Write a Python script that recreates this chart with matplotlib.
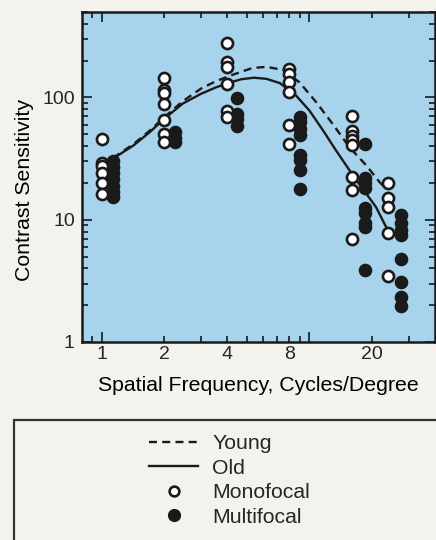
import matplotlib
matplotlib.use('Agg')
import matplotlib.pyplot as plt
from matplotlib.lines import Line2D
from matplotlib.patches import Rectangle
from matplotlib.ticker import FixedLocator, FixedFormatter, FuncFormatter, NullFormatter

plt.rcParams['font.family'] = ['Liberation Sans', 'DejaVu Sans']
plt.rcParams['text.color'] = '#262626'

# fitted curves
young_f = [1.13, 1.42, 1.7, 2.0, 2.45, 3.0, 3.55, 4.3, 5.3, 6.2, 7.45, 8.95, 10.8, 12.9, 15.6, 18.7, 21.7, 22.9]
young_cs = [32, 41.5, 53.5, 69, 93, 118, 136, 154, 174, 178, 168, 133, 91, 61, 39, 28, 20.4, 18.5]
old_f = [1.13, 1.42, 1.7, 2.0, 2.45, 3.0, 3.55, 4.05, 4.7, 5.4, 6.2, 7.2, 8.6, 10, 11.6, 13.4, 15.6, 18, 20.9, 23.4]
old_cs = [31.5, 40.5, 52, 67, 89, 107, 121, 131, 141, 145, 142, 131, 104, 78, 54, 37, 25.3, 18, 12.7, 8.7]

# individual subjects, one list per test frequency
mono_freq = [1, 2, 4, 8, 16, 24]
mono_cs = [
    [46, 29.3, 27.5, 24.3, 19.8, 16.2],
    [145, 114, 108, 88, 66, 50.6, 43.1],
    [277, 194, 177, 129, 78, 69],
    [171, 156, 133, 110.5, 59, 41.3],
    [70.4, 52.8, 48, 45.1, 40.6, 22.4, 17.6, 6.9],
    [20, 15.1, 12.7, 7.8, 3.46],
]
multi_freq = [1.13, 2.25, 4.5, 9.0, 18.5, 27.5]
multi_cs = [
    [30, 27, 24, 21.5, 19, 17, 15.2],
    [52, 47, 43],
    [99.5, 73, 67, 58.3],
    [69, 63, 55.5, 49, 33.6, 30.6, 25.4, 18],
    [41.3, 21.9, 20, 18.3, 12.5, 11.4, 9.4, 8.7, 3.87],
    [11, 9.4, 8.2, 7.5, 4.76, 3.1, 2.34, 1.97],
]

x_ticklabels = {2: '2', 4: '4', 8: '8', 20: '20'}

fig = plt.figure(figsize=(4.36, 5.40), dpi=100, facecolor='#f3f2ec')
ax = fig.add_axes([0.1874, 0.3667, 0.8092, 0.6111])
ax.set_facecolor('#a8d3ec')
ax.set_xscale('log')
ax.set_yscale('log')
ax.set_xlim(0.8, 40)
ax.set_ylim(1, 500)

dark = '#1a1a1a'
ax.plot(young_f, young_cs, color=dark, lw=1.7, dashes=(3.4, 2.2), zorder=2)
ax.plot(old_f, old_cs, color=dark, lw=1.7, zorder=2)

for f, vals in zip(multi_freq, multi_cs):
    ax.plot([f] * len(vals), vals, 'o', ms=8.2, mfc=dark, mec=dark, mew=1.6, ls='none', zorder=3)
for f, vals in zip(mono_freq, mono_cs):
    ax.plot([f] * len(vals), vals, 'o', ms=8, mfc='white', mec=dark, mew=1.9, ls='none', zorder=4)

# ticks
ax.xaxis.set_major_locator(FixedLocator([1, 10]))
ax.xaxis.set_major_formatter(FixedFormatter(['1', '']))
ax.xaxis.set_minor_locator(FixedLocator([0.9, 2, 3, 4, 5, 6, 7, 8, 9, 20, 30]))
ax.xaxis.set_minor_formatter(FuncFormatter(lambda v, p: x_ticklabels.get(int(round(v)), '')))
ax.yaxis.set_major_locator(FixedLocator([1, 10, 100]))
ax.yaxis.set_major_formatter(FixedFormatter(['1', '10', '100']))
ax.yaxis.set_minor_formatter(NullFormatter())

ax.tick_params(which='both', direction='in', top=True, right=True, color=dark,
               labelsize=14, labelcolor='#262626')
ax.tick_params(which='major', length=7, width=1.2)
ax.tick_params(which='minor', length=4, width=1.2)
ax.tick_params(axis='x', which='both', pad=3)
ax.tick_params(axis='y', which='both', pad=5)
for s in ax.spines.values():
    s.set_linewidth(1.8)
    s.set_color(dark)

ax.set_xlabel('Spatial Frequency, Cycles/Degree', fontsize=15.3)
ax.set_ylabel('Contrast Sensitivity', fontsize=15.3)
ax.xaxis.set_label_coords(0.5, -0.103)
ax.yaxis.set_label_coords(-0.135, 0.46)

# legend box
fig.add_artist(Rectangle((0.032, -0.1), 1.1, 0.322, transform=fig.transFigure,
                         fill=False, edgecolor='#333333', lw=1.6, clip_on=False))
handles = [
    Line2D([], [], color=dark, lw=1.7, dashes=(3.4, 2.2)),
    Line2D([], [], color=dark, lw=1.7),
    Line2D([], [], marker='o', ls='none', ms=7, mfc='white', mec=dark, mew=1.9),
    Line2D([], [], marker='o', ls='none', ms=8.5, mfc=dark, mec=dark),
]
fig.legend(handles, ['Young', 'Old', 'Monofocal', 'Multifocal'], loc='upper left',
           bbox_to_anchor=(0.342, 0.196), frameon=False, fontsize=15.3, handlelength=2.3,
           handletextpad=0.67, labelspacing=0.26, borderpad=0, borderaxespad=0)

fig.savefig('out.png', dpi=100, facecolor=fig.get_facecolor())
